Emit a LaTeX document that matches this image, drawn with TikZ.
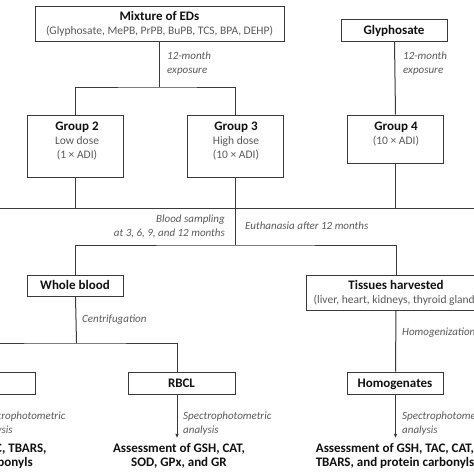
\documentclass[tikz,border=0pt]{standalone}
\usepackage{fontspec}
\setmainfont{Carlito}
\usetikzlibrary{arrows.meta}
\definecolor{linec}{HTML}{3A3A3A}
\definecolor{txtc}{HTML}{111111}
\definecolor{subc}{HTML}{5A5A5A}
\tikzset{
  box/.style={draw=linec, line width=1pt, fill=white, inner sep=0pt},
  ttl/.style={font=\fontsize{13}{14}\selectfont\bfseries, text=txtc, anchor=base, inner sep=0pt, align=center},
  sub/.style={font=\fontsize{11.5}{13.5}\selectfont, text=subc, anchor=base, inner sep=0pt, align=center},
  lbl/.style={font=\fontsize{11}{13.7}\selectfont\itshape, text=subc, anchor=base west, inner sep=0pt, align=left},
  lblr/.style={lbl, anchor=base east, align=right},
  conn/.style={draw=linec, line width=1pt},
  arr/.style={conn, -{Latex[length=4.5pt,width=3.6pt]}, shorten >=4.5pt},
}
\begin{document}
\begin{tikzpicture}[x=1pt,y=-1pt]
\useasboundingbox (0,0) rectangle (474,474);
\clip (0,0) rectangle (474,474);
\fill[white] (0,0) rectangle (474,474);

% boxes
\node[box, minimum width=249pt, minimum height=35pt] (mix) at (159.5,23.5) {};
\node[box, minimum width=106pt, minimum height=22pt] (gly) at (394.5,30) {};
\node[box, minimum width=96pt, minimum height=62pt] (g2) at (75.5,146) {};
\node[box, minimum width=96pt, minimum height=62pt] (g3) at (235.5,146.5) {};
\node[box, minimum width=96pt, minimum height=48pt] (g4) at (395.5,139) {};
\node[box, minimum width=96pt, minimum height=21pt] (wb) at (75.5,285.5) {};
\node[box, minimum width=180pt, minimum height=35pt] (th) at (396,292.5) {};
\node[box, minimum width=110pt, minimum height=22pt] (pl) at (-20,383) {};
\node[box, minimum width=107pt, minimum height=22pt] (rb) at (181.5,383) {};
\node[box, minimum width=96pt, minimum height=22pt] (hg) at (395.5,383) {};

% box texts (multi-line nodes: y is the baseline of the last line)
\node[ttl] (mixT) at (159.5,20.5) {Mixture of EDs};
\node[sub] (mixS) at (159.5,34) {(Glyphosate, MePB, PrPB, BuPB, TCS, BPA, DEHP)};
\node[ttl] (glyT) at (394,34) {Glyphosate};
\node[ttl] (g2T) at (77,130) {Group 2};
\node[sub] (g2S) at (77,158.2) {Low dose\\(1 × ADI)};
\node[ttl] (g3T) at (236,130) {Group 3};
\node[sub] (g3S) at (236,158.2) {High dose\\(10 × ADI)};
\node[ttl] (g4T) at (396,130) {Group 4};
\node[sub] (g4S) at (396,144.7) {(10 × ADI)};
\node[ttl] (wbT) at (75,289.5) {Whole blood};
\node[ttl] (thT) at (396,289.5) {Tissues harvested};
\node[sub] (thS) at (396,303.3) {(liver, heart, kidneys, thyroid gland)};
\node[ttl] (rbT) at (181.5,387.3) {RBCL};
\node[ttl] (hgT) at (395,387.3) {Homogenates};

% result texts
\node[ttl] (a1) at (-26,466) {Assessment of TAC, TBARS,\\and protein carbonyls};
\node[ttl] (a2) at (179,466) {Assessment of GSH, CAT,\\SOD, GPx, and GR};
\node[ttl] (a3) at (395,466) {Assessment of GSH, TAC, CAT,\\TBARS, and protein carbonyls};

% italic labels
\node[lbl] (l1) at (167,73.2) {12-month\\exposure};
\node[lbl] (l2) at (403,73) {12-month\\exposure};
\node[lblr] (l3) at (225,236) {Blood sampling\\at 3, 6, 9, and 12 months};
\node[lbl] (l4) at (245,229) {Euthanasia after 12 months};
\node[lbl] (l5) at (82,322.3) {Centrifugation};
\node[lbl] (l6) at (402,335) {Homogenization};
\node[lbl] (l7) at (-23,433.2) {Spectrophotometric\\analysis};
\node[lbl] (l8) at (183,433.2) {Spectrophotometric\\analysis};
\node[lbl] (l9) at (402,433.2) {Spectrophotometric\\analysis};

% junction coordinates
\coordinate (j1) at (159.5,87);
\coordinate (hl) at (-10,208);
\coordinate (hr) at (484,208);
\coordinate (j2) at (235.5,245);
\coordinate (j3) at (76.5,343);

% connectors
\draw[conn] (mix.south) -- (j1);
\draw[conn] (g2.north) |- (j1) -| (g3.north);
\draw[conn] (gly.south) -- (g4.north);
\draw[conn] (hl) -- (hr);
\draw[conn] (g2.south) -- (g2.south |- hl);
\draw[conn] (g4.south) -- (g4.south |- hl);
\draw[conn] (g3.south) -- (j2);
\draw[conn] (wb.north) |- (j2) -| (th.north);
\draw[conn] (wb.south) -- (j3);
\draw[conn] ([xshift=-9pt]pl.north) |- (j3) -| ([xshift=-4.5pt]rb.north);
\draw[conn] (th.south) -- (hg.north);
\draw[arr] ([xshift=-9pt]pl.south) -- ([xshift=-9pt]pl.south |- a1.north);
\draw[arr] ([xshift=-4.5pt]rb.south) -- ([xshift=-4.5pt]rb.south |- a2.north);
\draw[arr] (hg.south) -- (hg.south |- a3.north);
\end{tikzpicture}
\end{document}
